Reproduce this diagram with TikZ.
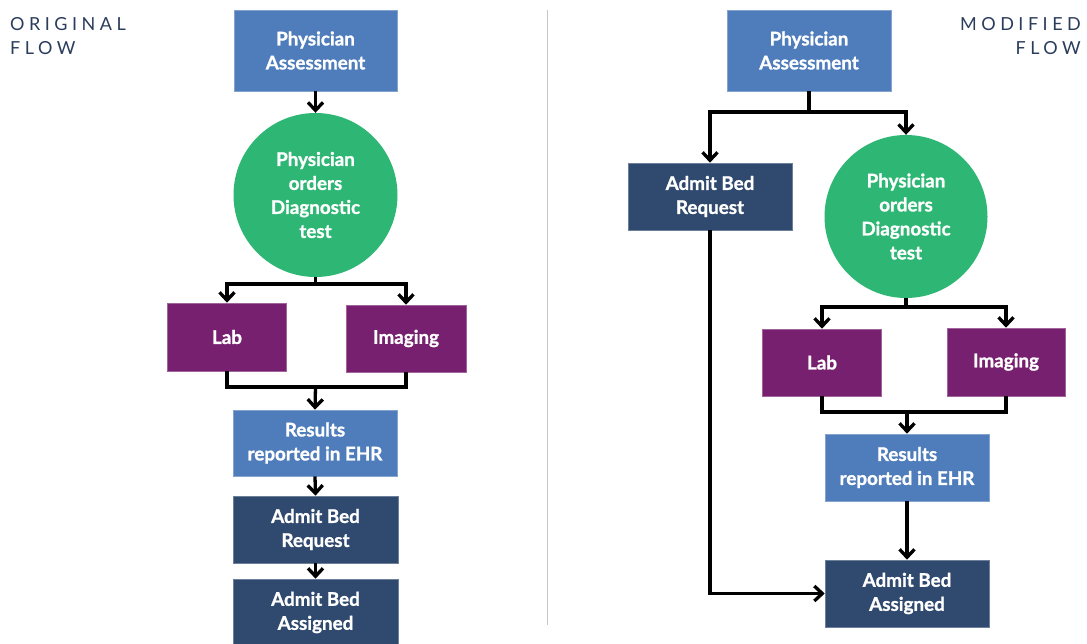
\documentclass[tikz,border=0pt]{standalone}
\usepackage{fontspec}
\setmainfont{Lato}
\usetikzlibrary{arrows.meta}
\definecolor{cblue}{HTML}{4F7DBB}
\definecolor{cgreen}{HTML}{2DB674}
\definecolor{cpurple}{HTML}{77206F}
\definecolor{cnavy}{HTML}{2F4A6E}
\definecolor{ctitle}{HTML}{2B3D5C}
\tikzset{
  boxfont/.style={font=\fontsize{18.8}{24}\selectfont\bfseries\addfontfeature{FakeBold=1.2}},
  box/.style={rectangle, inner sep=0pt, text=white, align=center, boxfont},
  bluebox/.style={box, fill=cblue, draw=cblue!70!white, line width=0.6pt},
  navybox/.style={box, fill=cnavy, draw=cnavy!70!white, line width=0.6pt},
  purplebox/.style={box, fill=cpurple, draw=cpurple!70!white, line width=0.6pt},
  greencirc/.style={circle, inner sep=0pt, fill=cgreen, text=white, align=center, boxfont},
  ln/.style={line width=3.3pt, black},
  arr/.style={ln, -{Straight Barb[length=8pt,width=15pt]}},
  title/.style={inner sep=0pt, text=ctitle,
    font=\fontsize{18}{24}\selectfont\addfontfeature{LetterSpace=25}}
}
\begin{document}
\begin{tikzpicture}[x=1pt,y=-1pt]
\useasboundingbox (0,0) rectangle (1087,644);
\fill[white] (0,0) rectangle (1087,644);

% titles
\node[title, anchor=north west, align=left] (t1) at (10,17) {ORIGINAL\\FLOW};
\node[title, anchor=north east, align=right] (t2) at (1081,17) {MODIFIED\\FLOW};

% divider
\draw[gray!45, line width=0.8pt] (547,10) -- (547,625);

% ---------- left: original flow ----------
\node[bluebox, minimum width=163pt, minimum height=81pt] (pa1) at (315.5,50.5) {Physician\\Assessment};
\node[greencirc, minimum size=164pt] (c1) at (315.5,195) {Physician\\orders\\Diagnostic\\test};
\node[purplebox, minimum width=119pt, minimum height=68pt] (lab1) at (227,337) {Lab};
\node[purplebox, minimum width=120pt, minimum height=67pt] (img1) at (406,338.5) {Imaging};
\node[bluebox, minimum width=164pt, minimum height=66pt] (res1) at (315,443) {Results\\reported in EHR};
\node[navybox, minimum width=165pt, minimum height=67pt] (abr1) at (315.5,529.5) {Admit Bed\\Request};
\node[navybox, minimum width=165pt, minimum height=67pt] (aba1) at (315.5,612.5) {Admit Bed\\Assigned};

\coordinate (s1) at (315.5,284);
\coordinate (m1) at (315.5,387);
\draw[arr] (pa1.south) -- (c1.north);
\draw[ln] (c1.south) -- (s1);
\draw[arr] (s1) -| (lab1.north);
\draw[arr] (s1) -| (img1.north);
\draw[ln] (lab1.south) |- (m1) -| (img1.south);
\draw[arr] (m1) -- (res1.north);
\draw[arr] (res1.south) -- (abr1.north);
\draw[arr] (abr1.south) -- (aba1.north);

% ---------- right: modified flow ----------
\node[bluebox, minimum width=164pt, minimum height=81pt] (pa2) at (809,50.5) {Physician\\Assessment};
\node[navybox, minimum width=164pt, minimum height=67pt] (abr2) at (710,196.5) {Admit Bed\\Request};
\node[greencirc, minimum size=163pt] (c2) at (906,216.5) {Physician\\orders\\Diagnostic\\test};
\node[purplebox, minimum width=119pt, minimum height=67pt] (lab2) at (822,362.5) {Lab};
\node[purplebox, minimum width=118pt, minimum height=68pt] (img2) at (1006,362) {Imaging};
\node[bluebox, minimum width=164pt, minimum height=67pt] (res2) at (907,467.5) {Results\\reported in EHR};
\node[navybox, minimum width=164pt, minimum height=67pt] (aba2) at (907,593.5) {Admit Bed\\Assigned};

\coordinate (s2) at (809,112);
\coordinate (s3) at (906,307);
\coordinate (m2) at (907,412);
\draw[ln] (pa2.south) -- (s2);
\draw[arr] (s2) -| (abr2.north);
\draw[arr] (s2) -| (c2.north);
\draw[ln] (c2.south) -- (s3);
\draw[arr] (s3) -| (lab2.north);
\draw[arr] (s3) -| (img2.north);
\draw[ln] (lab2.south) |- (m2) -| (img2.south);
\draw[arr] (m2) -- (res2.north);
\draw[arr] (res2.south) -- (aba2.north);
\draw[arr] (abr2.south) |- (aba2.west);
\end{tikzpicture}
\end{document}
